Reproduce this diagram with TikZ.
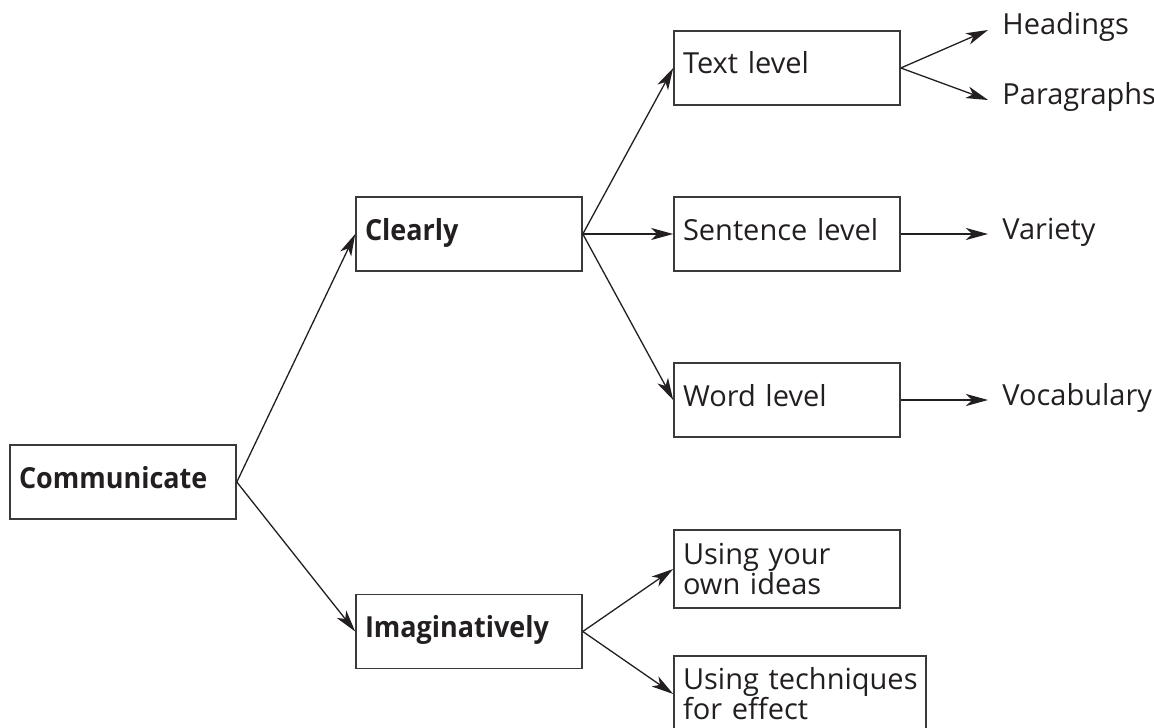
\documentclass[tikz,border=0pt]{standalone}
\usepackage{fontspec}
\setmainfont{Open Sans}[BoldFeatures={FakeStretch=0.93}]
\usetikzlibrary{arrows.meta}
\definecolor{ink}{HTML}{231F20}
\definecolor{frame}{HTML}{3A3A3A}
\begin{document}
\begin{tikzpicture}[x=0.5pt,y=-0.5pt,
  txt/.style={font=\fontsize{14.5}{15}\selectfont, text=ink},
  box/.style={txt, draw=frame, line width=0.8pt, minimum width=113pt,
    minimum height=37pt, inner xsep=4.5pt, inner ysep=0pt,
    text width=104pt, align=left, text height=0.75em, text depth=0.15em},
  boxb/.style={box, font=\fontsize{14.5}{15}\selectfont\bfseries},
  twoline/.style={txt, draw=frame, line width=0.8pt, minimum width=113pt,
    minimum height=39pt, inner xsep=4.5pt, inner ysep=0pt,
    text width=104pt, align=left},
  lbl/.style={txt, anchor=west, inner xsep=7pt, inner ysep=0pt,
    text height=0.75em, text depth=0.25em},
  arr/.style={draw=ink, line width=0.65pt,
    -{Stealth[length=11pt, width=6pt, inset=3pt]}}
]
\clip (0,0) rectangle (1154,727);

% boxes
\node[boxb] (comm)  at (123,482)   {Communicate};
\node[boxb] (clear) at (469,234)   {Clearly};
\node[boxb] (imag)  at (469,631.5) {Imaginatively};
\node[box]  (textl) at (787,68)    {Text level};
\node[box]  (sent)  at (787,234)   {Sentence level};
\node[box]  (word)  at (787,400)   {Word level};
\node[twoline] (ideas) at (787,569) {Using your\\own ideas};
\node[twoline, minimum width=126pt, text width=117pt, minimum height=38pt]
  (tech) at (800,694) {\hbox{Using techniques}\\for effect};

% free labels
\node[lbl] (head) at (988,30)  {Headings};
\node[lbl] (para) at (988,100) {Paragraphs};
\node[lbl] (var)  at (988,234) {Variety};
\node[lbl] (voc)  at (988,400) {Vocabulary};

% connectors
\draw[arr] (comm.east)  -- (clear.west);
\draw[arr] (comm.east)  -- (imag.west);
\draw[arr] (clear.east) -- (textl.west);
\draw[arr] (clear.east) -- (sent.west);
\draw[arr] (clear.east) -- (word.west);
\draw[arr] (imag.east)  -- (ideas.west);
\draw[arr] (imag.east)  -- (tech.west);
\draw[arr] (textl.east) -- (head.west);
\draw[arr] (textl.east) -- (para.west);
\draw[arr] (sent.east)  -- (var.west);
\draw[arr] (word.east)  -- (voc.west);
\end{tikzpicture}
\end{document}
